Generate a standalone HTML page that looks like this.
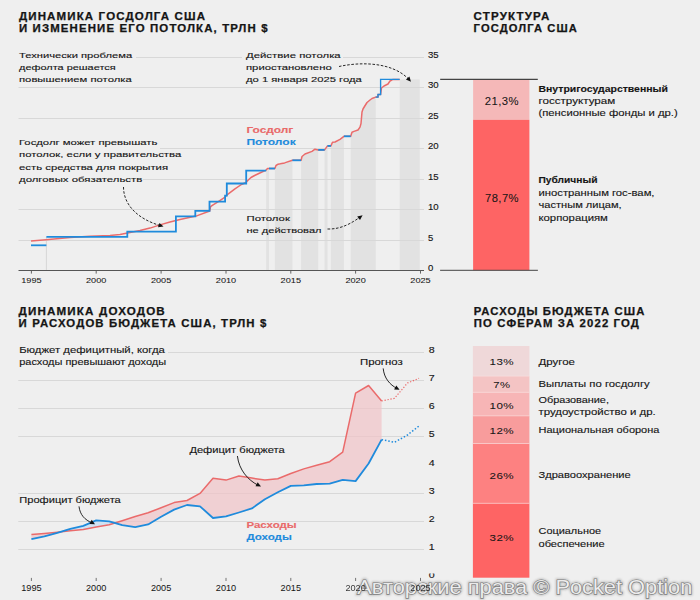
<!DOCTYPE html>
<html><head><meta charset="utf-8"><style>
html,body{margin:0;padding:0;background:#efefef;}
svg{display:block;font-family:"Liberation Sans", sans-serif;}
</style></head><body>
<svg width="700" height="600" viewBox="0 0 700 600">
<rect width="700" height="600" fill="#efefef"/>
<polygon points="266.2,270.4 266.2,169.9 267.5,168.5 269.0,168.5 269.0,270.4" fill="#e2e2e2"/>
<polygon points="274.9,270.4 274.9,168.5 276.0,165.5 278.1,164.2 280.3,163.8 284.6,162.9 292.4,160.3 292.4,270.4" fill="#e2e2e2"/>
<polygon points="301.1,270.4 301.1,160.3 302.0,156.5 305.0,154.0 312.0,151.4 315.0,149.2 318.2,149.9 318.2,270.4" fill="#e2e2e2"/>
<polygon points="324.6,270.4 324.6,149.9 327.5,145.9 327.5,270.4" fill="#e2e2e2"/>
<polygon points="330.9,270.4 330.9,145.9 332.5,142.3 335.0,142.0 340.0,139.3 343.9,136.3 343.9,270.4" fill="#e2e2e2"/>
<polygon points="350.7,270.4 350.7,136.3 352.0,132.3 354.0,131.4 358.0,130.0 360.0,127.1 361.0,123.5 362.0,112.0 363.0,109.0 364.5,106.5 367.0,102.5 370.0,100.0 372.0,98.5 375.7,97.1 375.7,270.4" fill="#e2e2e2"/>
<rect x="399.7" y="79.4" width="20" height="191" fill="#e2e2e2"/>
<line x1="18.5" y1="240.5" x2="424" y2="240.5" stroke="#d8d8d8" stroke-width="1"/>
<line x1="18.5" y1="209.5" x2="424" y2="209.5" stroke="#d8d8d8" stroke-width="1"/>
<line x1="18.5" y1="179.5" x2="424" y2="179.5" stroke="#d8d8d8" stroke-width="1"/>
<line x1="18.5" y1="148.5" x2="424" y2="148.5" stroke="#d8d8d8" stroke-width="1"/>
<line x1="18.5" y1="118.5" x2="424" y2="118.5" stroke="#d8d8d8" stroke-width="1"/>
<line x1="18.5" y1="87.5" x2="424" y2="87.5" stroke="#d8d8d8" stroke-width="1"/>
<line x1="18.5" y1="57.5" x2="424" y2="57.5" stroke="#d8d8d8" stroke-width="1"/>
<line x1="46.4" y1="237" x2="46.4" y2="270.4" stroke="#d6d6d6" stroke-width="1"/>
<polyline points="31.0,241.0 46.0,239.7 70.0,237.6 90.0,236.3 110.0,235.4 120.0,234.6 130.0,232.6 140.0,230.6 150.0,228.1 160.0,224.9 170.0,222.0 180.0,219.6 196.0,216.1 209.7,211.0 210.6,206.7 212.3,205.4 218.3,201.6 224.3,197.7 227.7,194.3 234.6,189.1 241.4,184.5 246.0,182.5 248.0,180.3 251.0,177.5 254.6,175.5 261.4,172.3 265.7,170.4 267.5,168.5 269.0,168.5 274.9,168.5 276.0,165.5 278.1,164.2 280.3,163.8 284.6,162.9 292.4,160.3 301.1,160.3 302.0,156.5 305.0,154.0 312.0,151.4 315.0,149.2 318.2,149.9 324.6,149.9 327.5,145.9 330.9,145.9 332.5,142.3 335.0,142.0 340.0,139.3 343.9,136.3 350.7,136.3 352.0,132.3 354.0,131.4 358.0,130.0 360.0,127.1 361.0,123.5 362.0,112.0 363.0,109.0 364.5,106.5 367.0,102.5 370.0,100.0 372.0,98.5 375.7,97.1 378.0,97.1 378.0,94.5 380.6,94.5 381.5,88.0 384.0,86.0 388.0,84.0 390.0,81.0 393.0,79.4 399.7,79.4" fill="none" stroke="#ea6b6b" stroke-width="1.5" stroke-linejoin="round"/>
<polyline points="31.0,245.3 46.4,245.3" fill="none" stroke="#1f8bdc" stroke-width="1.8" stroke-linejoin="miter"/>
<polyline points="46.4,236.8 127.3,236.8 127.3,231.6 175.9,231.6 175.9,216.4 195.3,216.4 195.3,210.8 209.5,210.8 209.5,201.6 225.1,201.6 225.1,195.6 226.8,195.6 226.8,183.5 246.2,183.5 246.2,170.6 266.2,170.6" fill="none" stroke="#1f8bdc" stroke-width="1.8" stroke-linejoin="miter"/>
<polyline points="269.0,168.5 274.9,168.5" fill="none" stroke="#1f8bdc" stroke-width="1.8" stroke-linejoin="miter"/>
<polyline points="292.4,160.3 301.1,160.3" fill="none" stroke="#1f8bdc" stroke-width="1.8" stroke-linejoin="miter"/>
<polyline points="318.2,149.9 324.6,149.9" fill="none" stroke="#1f8bdc" stroke-width="1.8" stroke-linejoin="miter"/>
<polyline points="327.5,145.9 330.9,145.9" fill="none" stroke="#1f8bdc" stroke-width="1.8" stroke-linejoin="miter"/>
<polyline points="343.9,136.3 350.7,136.3" fill="none" stroke="#1f8bdc" stroke-width="1.8" stroke-linejoin="miter"/>
<polyline points="375.7,97.1 378.0,97.1 378.0,94.5 380.6,94.5 380.6,79.4 399.7,79.4" fill="none" stroke="#1f8bdc" stroke-width="1.35" stroke-linejoin="miter"/>
<line x1="18.5" y1="270.5" x2="424" y2="270.5" stroke="#555" stroke-width="1"/>
<line x1="31.4" y1="270.4" x2="31.4" y2="273.6" stroke="#555" stroke-width="0.9"/>
<text x="31.4" y="283.2" font-size="7.6" font-weight="normal" fill="#151515" text-anchor="middle" textLength="20.4" lengthAdjust="spacingAndGlyphs" stroke="#151515" stroke-width="0.05">1995</text>
<line x1="96.2" y1="270.4" x2="96.2" y2="273.6" stroke="#555" stroke-width="0.9"/>
<text x="96.2" y="283.2" font-size="7.6" font-weight="normal" fill="#151515" text-anchor="middle" textLength="20.4" lengthAdjust="spacingAndGlyphs" stroke="#151515" stroke-width="0.05">2000</text>
<line x1="161.1" y1="270.4" x2="161.1" y2="273.6" stroke="#555" stroke-width="0.9"/>
<text x="161.1" y="283.2" font-size="7.6" font-weight="normal" fill="#151515" text-anchor="middle" textLength="20.4" lengthAdjust="spacingAndGlyphs" stroke="#151515" stroke-width="0.05">2005</text>
<line x1="226.0" y1="270.4" x2="226.0" y2="273.6" stroke="#555" stroke-width="0.9"/>
<text x="226.0" y="283.2" font-size="7.6" font-weight="normal" fill="#151515" text-anchor="middle" textLength="20.4" lengthAdjust="spacingAndGlyphs" stroke="#151515" stroke-width="0.05">2010</text>
<line x1="290.8" y1="270.4" x2="290.8" y2="273.6" stroke="#555" stroke-width="0.9"/>
<text x="290.8" y="283.2" font-size="7.6" font-weight="normal" fill="#151515" text-anchor="middle" textLength="20.4" lengthAdjust="spacingAndGlyphs" stroke="#151515" stroke-width="0.05">2015</text>
<line x1="355.6" y1="270.4" x2="355.6" y2="273.6" stroke="#555" stroke-width="0.9"/>
<text x="355.6" y="283.2" font-size="7.6" font-weight="normal" fill="#151515" text-anchor="middle" textLength="20.4" lengthAdjust="spacingAndGlyphs" stroke="#151515" stroke-width="0.05">2020</text>
<line x1="420.5" y1="270.4" x2="420.5" y2="273.6" stroke="#555" stroke-width="0.9"/>
<text x="420.5" y="283.2" font-size="7.6" font-weight="normal" fill="#151515" text-anchor="middle" textLength="20.4" lengthAdjust="spacingAndGlyphs" stroke="#151515" stroke-width="0.05">2025</text>
<text x="428.0" y="271.0" font-size="8.2" font-weight="normal" fill="#151515" text-anchor="start" textLength="5.3" lengthAdjust="spacingAndGlyphs" stroke="#151515" stroke-width="0.12">0</text>
<text x="428.0" y="241.0" font-size="8.2" font-weight="normal" fill="#151515" text-anchor="start" textLength="5.3" lengthAdjust="spacingAndGlyphs" stroke="#151515" stroke-width="0.12">5</text>
<text x="428.0" y="210.0" font-size="8.2" font-weight="normal" fill="#151515" text-anchor="start" textLength="10.7" lengthAdjust="spacingAndGlyphs" stroke="#151515" stroke-width="0.12">10</text>
<text x="428.0" y="180.0" font-size="8.2" font-weight="normal" fill="#151515" text-anchor="start" textLength="10.7" lengthAdjust="spacingAndGlyphs" stroke="#151515" stroke-width="0.12">15</text>
<text x="428.0" y="149.0" font-size="8.2" font-weight="normal" fill="#151515" text-anchor="start" textLength="10.7" lengthAdjust="spacingAndGlyphs" stroke="#151515" stroke-width="0.12">20</text>
<text x="428.0" y="119.0" font-size="8.2" font-weight="normal" fill="#151515" text-anchor="start" textLength="10.7" lengthAdjust="spacingAndGlyphs" stroke="#151515" stroke-width="0.12">25</text>
<text x="428.0" y="88.0" font-size="8.2" font-weight="normal" fill="#151515" text-anchor="start" textLength="10.7" lengthAdjust="spacingAndGlyphs" stroke="#151515" stroke-width="0.12">30</text>
<text x="428.0" y="58.0" font-size="8.2" font-weight="normal" fill="#151515" text-anchor="start" textLength="10.7" lengthAdjust="spacingAndGlyphs" stroke="#151515" stroke-width="0.12">35</text>
<line x1="18.3" y1="549.5" x2="424" y2="549.5" stroke="#d8d8d8" stroke-width="1"/>
<line x1="18.3" y1="521.5" x2="424" y2="521.5" stroke="#d8d8d8" stroke-width="1"/>
<line x1="18.3" y1="493.5" x2="424" y2="493.5" stroke="#d8d8d8" stroke-width="1"/>
<line x1="18.3" y1="436.5" x2="424" y2="436.5" stroke="#d8d8d8" stroke-width="1"/>
<line x1="18.3" y1="408.5" x2="424" y2="408.5" stroke="#d8d8d8" stroke-width="1"/>
<line x1="18.3" y1="380.5" x2="424" y2="380.5" stroke="#d8d8d8" stroke-width="1"/>
<line x1="18.3" y1="352.5" x2="424" y2="352.5" stroke="#d8d8d8" stroke-width="1"/>
<polygon points="31.4,534.6 44.4,533.4 57.3,532.2 60.4,531.9 60.4,531.9 57.3,532.8 44.4,536.4 31.4,539.2" fill="#f0c4c7" fill-opacity="0.72"/>
<polygon points="60.4,531.9 70.3,530.8 83.3,529.4 96.2,526.9 109.2,524.8 115.0,523.0 115.0,523.0 109.2,521.3 96.2,520.3 83.3,525.9 70.3,528.8 60.4,531.9" fill="#c4ddf2" fill-opacity="0.72"/>
<polygon points="115.0,523.0 122.2,520.7 135.2,516.5 148.1,512.8 161.1,507.7 174.1,502.6 187.0,500.5 200.0,493.4 213.0,478.3 226.0,480.1 238.9,476.0 251.9,478.1 264.9,480.1 277.8,478.7 290.8,473.5 303.8,468.9 316.7,465.3 329.7,461.7 342.7,452.2 355.6,393.1 368.6,385.5 381.6,401.0 381.6,439.6 368.6,463.5 355.6,481.1 342.7,479.9 329.7,483.6 316.7,484.0 303.8,485.4 290.8,485.9 277.8,492.3 264.9,499.2 251.9,508.4 238.9,512.5 226.0,516.4 213.0,518.0 200.0,506.3 187.0,505.0 174.1,509.6 161.1,516.7 148.1,524.4 135.2,527.1 122.2,525.1 115.0,523.0" fill="#f0c4c7" fill-opacity="0.72"/>
<polyline points="31.4,534.6 44.4,533.4 57.3,532.2 70.3,530.8 83.3,529.4 96.2,526.9 109.2,524.8 122.2,520.7 135.2,516.5 148.1,512.8 161.1,507.7 174.1,502.6 187.0,500.5 200.0,493.4 213.0,478.3 226.0,480.1 238.9,476.0 251.9,478.1 264.9,480.1 277.8,478.7 290.8,473.5 303.8,468.9 316.7,465.3 329.7,461.7 342.7,452.2 355.6,393.1 368.6,385.5 381.6,401.0" fill="none" stroke="#ea6b6b" stroke-width="1.5" stroke-linejoin="round"/>
<polyline points="31.4,539.2 44.4,536.4 57.3,532.8 70.3,528.8 83.3,525.9 96.2,520.3 109.2,521.3 122.2,525.1 135.2,527.1 148.1,524.4 161.1,516.7 174.1,509.6 187.0,505.0 200.0,506.3 213.0,518.0 226.0,516.4 238.9,512.5 251.9,508.4 264.9,499.2 277.8,492.3 290.8,485.9 303.8,485.4 316.7,484.0 329.7,483.6 342.7,479.9 355.6,481.1 368.6,463.5 381.6,439.6" fill="none" stroke="#1f8bdc" stroke-width="1.8" stroke-linejoin="round"/>
<polyline points="381.6,401.0 394.5,398.3 407.5,383.0 419.0,378.3" fill="none" stroke="#ea6b6b" stroke-width="1.2" stroke-dasharray="1.3 1.7"/>
<polyline points="381.6,439.6 394.5,442.3 407.5,435.0 419.0,426.0" fill="none" stroke="#1f8bdc" stroke-width="1.5" stroke-dasharray="1.5 1.9"/>
<line x1="31.4" y1="577.9" x2="31.4" y2="581" stroke="#666" stroke-width="0.9"/>
<text x="31.4" y="591.0" font-size="9.0" font-weight="normal" fill="#151515" text-anchor="middle" textLength="20.4" lengthAdjust="spacingAndGlyphs">1995</text>
<line x1="96.2" y1="577.9" x2="96.2" y2="581" stroke="#666" stroke-width="0.9"/>
<text x="96.2" y="591.0" font-size="9.0" font-weight="normal" fill="#151515" text-anchor="middle" textLength="20.4" lengthAdjust="spacingAndGlyphs">2000</text>
<line x1="161.1" y1="577.9" x2="161.1" y2="581" stroke="#666" stroke-width="0.9"/>
<text x="161.1" y="591.0" font-size="9.0" font-weight="normal" fill="#151515" text-anchor="middle" textLength="20.4" lengthAdjust="spacingAndGlyphs">2005</text>
<line x1="226.0" y1="577.9" x2="226.0" y2="581" stroke="#666" stroke-width="0.9"/>
<text x="226.0" y="591.0" font-size="9.0" font-weight="normal" fill="#151515" text-anchor="middle" textLength="20.4" lengthAdjust="spacingAndGlyphs">2010</text>
<line x1="290.8" y1="577.9" x2="290.8" y2="581" stroke="#666" stroke-width="0.9"/>
<text x="290.8" y="591.0" font-size="9.0" font-weight="normal" fill="#151515" text-anchor="middle" textLength="20.4" lengthAdjust="spacingAndGlyphs">2015</text>
<line x1="355.6" y1="577.9" x2="355.6" y2="581" stroke="#666" stroke-width="0.9"/>
<line x1="420.5" y1="577.9" x2="420.5" y2="581" stroke="#666" stroke-width="0.9"/>
<clipPath id="c0"><rect x="420" y="573.4" width="20" height="8"/></clipPath>
<text x="428.7" y="578.0" font-size="8.6" font-weight="normal" fill="#151515" text-anchor="start" textLength="5.9" lengthAdjust="spacingAndGlyphs" stroke="#151515" stroke-width="0.12" clip-path="url(#c0)">0</text>
<text x="428.7" y="550.0" font-size="8.6" font-weight="normal" fill="#151515" text-anchor="start" textLength="5.9" lengthAdjust="spacingAndGlyphs" stroke="#151515" stroke-width="0.12">1</text>
<text x="428.7" y="522.0" font-size="8.6" font-weight="normal" fill="#151515" text-anchor="start" textLength="5.9" lengthAdjust="spacingAndGlyphs" stroke="#151515" stroke-width="0.12">2</text>
<text x="428.7" y="494.0" font-size="8.6" font-weight="normal" fill="#151515" text-anchor="start" textLength="5.9" lengthAdjust="spacingAndGlyphs" stroke="#151515" stroke-width="0.12">3</text>
<text x="428.7" y="466.0" font-size="8.6" font-weight="normal" fill="#151515" text-anchor="start" textLength="5.9" lengthAdjust="spacingAndGlyphs" stroke="#151515" stroke-width="0.12">4</text>
<text x="428.7" y="437.0" font-size="8.6" font-weight="normal" fill="#151515" text-anchor="start" textLength="5.9" lengthAdjust="spacingAndGlyphs" stroke="#151515" stroke-width="0.12">5</text>
<text x="428.7" y="409.0" font-size="8.6" font-weight="normal" fill="#151515" text-anchor="start" textLength="5.9" lengthAdjust="spacingAndGlyphs" stroke="#151515" stroke-width="0.12">6</text>
<text x="428.7" y="381.0" font-size="8.6" font-weight="normal" fill="#151515" text-anchor="start" textLength="5.9" lengthAdjust="spacingAndGlyphs" stroke="#151515" stroke-width="0.12">7</text>
<text x="428.7" y="353.0" font-size="8.6" font-weight="normal" fill="#151515" text-anchor="start" textLength="5.9" lengthAdjust="spacingAndGlyphs" stroke="#151515" stroke-width="0.12">8</text>
<rect x="18" y="50" width="118" height="36" fill="#efefef"/>
<rect x="242" y="50" width="101" height="36" fill="#efefef"/>
<rect x="18" y="137" width="125" height="48" fill="#efefef"/>
<rect x="18" y="146" width="142" height="5" fill="#efefef"/>
<rect x="18" y="343" width="150" height="25" fill="#efefef"/>
<text x="18.9" y="19.9" font-size="10.0" font-weight="bold" fill="#151515" text-anchor="start" textLength="187.3" lengthAdjust="spacingAndGlyphs" letter-spacing="1.0" stroke="#151515" stroke-width="0.25">ДИНАМИКА ГОСДОЛГА США</text>
<text x="18.9" y="31.9" font-size="10.0" font-weight="bold" fill="#151515" text-anchor="start" textLength="249.8" lengthAdjust="spacingAndGlyphs" letter-spacing="1.0" stroke="#151515" stroke-width="0.25">И ИЗМЕНЕНИЕ ЕГО ПОТОЛКА, ТРЛН $</text>
<text x="473.6" y="20.0" font-size="10.0" font-weight="bold" fill="#151515" text-anchor="start" textLength="76.8" lengthAdjust="spacingAndGlyphs" letter-spacing="1.0" stroke="#151515" stroke-width="0.25">СТРУКТУРА</text>
<text x="473.6" y="32.0" font-size="10.0" font-weight="bold" fill="#151515" text-anchor="start" textLength="104.3" lengthAdjust="spacingAndGlyphs" letter-spacing="1.0" stroke="#151515" stroke-width="0.25">ГОСДОЛГА США</text>
<text x="18.6" y="314.6" font-size="10.0" font-weight="bold" fill="#151515" text-anchor="start" textLength="147.3" lengthAdjust="spacingAndGlyphs" letter-spacing="1.0" stroke="#151515" stroke-width="0.25">ДИНАМИКА ДОХОДОВ</text>
<text x="18.6" y="327.2" font-size="10.0" font-weight="bold" fill="#151515" text-anchor="start" textLength="248.8" lengthAdjust="spacingAndGlyphs" letter-spacing="1.0" stroke="#151515" stroke-width="0.25">И РАСХОДОВ БЮДЖЕТА США, ТРЛН $</text>
<text x="473.7" y="314.7" font-size="10.0" font-weight="bold" fill="#151515" text-anchor="start" textLength="171.8" lengthAdjust="spacingAndGlyphs" letter-spacing="1.0" stroke="#151515" stroke-width="0.25">РАСХОДЫ БЮДЖЕТА США</text>
<text x="473.7" y="327.1" font-size="10.0" font-weight="bold" fill="#151515" text-anchor="start" textLength="166.3" lengthAdjust="spacingAndGlyphs" letter-spacing="1.0" stroke="#151515" stroke-width="0.25">ПО СФЕРАМ ЗА 2022 ГОД</text>
<text x="19.0" y="57.6" font-size="8.1" font-weight="normal" fill="#151515" text-anchor="start" textLength="113.1" lengthAdjust="spacingAndGlyphs" stroke="#151515" stroke-width="0.12">Технически проблема</text>
<text x="19.0" y="70.0" font-size="8.1" font-weight="normal" fill="#151515" text-anchor="start" textLength="96.7" lengthAdjust="spacingAndGlyphs" stroke="#151515" stroke-width="0.12">дефолта решается</text>
<text x="19.0" y="82.4" font-size="8.1" font-weight="normal" fill="#151515" text-anchor="start" textLength="112.7" lengthAdjust="spacingAndGlyphs" stroke="#151515" stroke-width="0.12">повышением потолка</text>
<text x="246.0" y="57.6" font-size="8.1" font-weight="normal" fill="#151515" text-anchor="start" textLength="94.7" lengthAdjust="spacingAndGlyphs" stroke="#151515" stroke-width="0.12">Действие потолка</text>
<text x="246.0" y="70.0" font-size="8.1" font-weight="normal" fill="#151515" text-anchor="start" textLength="85.7" lengthAdjust="spacingAndGlyphs" stroke="#151515" stroke-width="0.12">приостановлено</text>
<text x="246.0" y="82.4" font-size="8.1" font-weight="normal" fill="#151515" text-anchor="start" textLength="115.7" lengthAdjust="spacingAndGlyphs" stroke="#151515" stroke-width="0.12">до 1 января 2025 года</text>
<text x="19.0" y="144.9" font-size="8.1" font-weight="normal" fill="#151515" text-anchor="start" textLength="138.3" lengthAdjust="spacingAndGlyphs" stroke="#151515" stroke-width="0.12">Госдолг может превышать</text>
<text x="19.0" y="157.3" font-size="8.1" font-weight="normal" fill="#151515" text-anchor="start" textLength="162.2" lengthAdjust="spacingAndGlyphs" stroke="#151515" stroke-width="0.12">потолок, если у правительства</text>
<text x="19.0" y="169.7" font-size="8.1" font-weight="normal" fill="#151515" text-anchor="start" textLength="149.1" lengthAdjust="spacingAndGlyphs" stroke="#151515" stroke-width="0.12">есть средства для покрытия</text>
<text x="19.0" y="182.1" font-size="8.1" font-weight="normal" fill="#151515" text-anchor="start" textLength="123.3" lengthAdjust="spacingAndGlyphs" stroke="#151515" stroke-width="0.12">долговых обязательств</text>
<text x="246.4" y="132.9" font-size="9.6" font-weight="bold" fill="#e96a6a" text-anchor="start" textLength="46.9" lengthAdjust="spacingAndGlyphs" stroke="#e96a6a" stroke-width="0.12">Госдолг</text>
<text x="246.4" y="145.0" font-size="9.6" font-weight="bold" fill="#1f8bdc" text-anchor="start" textLength="49.3" lengthAdjust="spacingAndGlyphs" stroke="#1f8bdc" stroke-width="0.12">Потолок</text>
<text x="246.5" y="220.8" font-size="8.1" font-weight="normal" fill="#151515" text-anchor="start" textLength="43.4" lengthAdjust="spacingAndGlyphs" stroke="#151515" stroke-width="0.12">Потолок</text>
<text x="246.5" y="232.9" font-size="8.1" font-weight="normal" fill="#151515" text-anchor="start" textLength="75.0" lengthAdjust="spacingAndGlyphs" stroke="#151515" stroke-width="0.12">не действовал</text>
<path d="M123.5,187 C123.5,205 138,219 160,225.5" fill="none" stroke="#111" stroke-width="0.9" stroke-dasharray="2.6 1.6"/>
<polygon points="163.5,226.6 158.0,227.2 159.5,222.9" fill="#111"/>
<path d="M339,66.5 C362,61.5 392,62.5 408,78.5" fill="none" stroke="#111" stroke-width="0.9" stroke-dasharray="2.6 1.6"/>
<polygon points="411.0,81.8 405.9,79.6 409.4,76.5" fill="#111"/>
<path d="M327.5,229 C342,229.5 353,222 359.5,217.5" fill="none" stroke="#111" stroke-width="0.9" stroke-dasharray="2.6 1.6"/>
<polygon points="362.6,215.2 360.0,220.0 357.2,216.4" fill="#111"/>
<path d="M383.2,368.4 C384,378 390,385 397,388.4" fill="none" stroke="#111" stroke-width="0.9"/>
<polygon points="399.6,389.8 394.1,389.5 396.3,385.4" fill="#111"/>
<path d="M237.4,456 C239,470 248,480 258,485.2" fill="none" stroke="#111" stroke-width="0.9"/>
<polygon points="261.0,486.6 255.5,486.3 257.7,482.2" fill="#111"/>
<path d="M79,506.4 C80,515 85,520 92,522.8" fill="none" stroke="#111" stroke-width="0.9"/>
<polygon points="95.0,524.2 89.5,523.9 91.7,519.8" fill="#111"/>
<text x="19.2" y="352.5" font-size="9.4" font-weight="normal" fill="#151515" text-anchor="start" textLength="145.7" lengthAdjust="spacingAndGlyphs" stroke="#151515" stroke-width="0.12">Бюджет дефицитный, когда</text>
<text x="19.2" y="365.0" font-size="9.4" font-weight="normal" fill="#151515" text-anchor="start" textLength="146.9" lengthAdjust="spacingAndGlyphs" stroke="#151515" stroke-width="0.12">расходы превышают доходы</text>
<text x="360.0" y="365.0" font-size="9.0" font-weight="normal" fill="#151515" text-anchor="start" textLength="42.7" lengthAdjust="spacingAndGlyphs" stroke="#151515" stroke-width="0.12">Прогноз</text>
<text x="189.4" y="453.1" font-size="9.2" font-weight="normal" fill="#151515" text-anchor="start" textLength="95.3" lengthAdjust="spacingAndGlyphs" stroke="#151515" stroke-width="0.12">Дефицит бюджета</text>
<text x="19.3" y="503.0" font-size="9.2" font-weight="normal" fill="#151515" text-anchor="start" textLength="101.5" lengthAdjust="spacingAndGlyphs" stroke="#151515" stroke-width="0.12">Профицит бюджета</text>
<text x="246.4" y="527.9" font-size="9.8" font-weight="bold" fill="#e96a6a" text-anchor="start" textLength="50.3" lengthAdjust="spacingAndGlyphs" stroke="#e96a6a" stroke-width="0.12">Расходы</text>
<text x="246.4" y="540.3" font-size="9.8" font-weight="bold" fill="#1f8bdc" text-anchor="start" textLength="45.4" lengthAdjust="spacingAndGlyphs" stroke="#1f8bdc" stroke-width="0.12">Доходы</text>
<rect x="473.1" y="79.8" width="56.3" height="40" fill="#f5b8b8"/>
<rect x="473.1" y="119.8" width="56.3" height="150.5" fill="#fe6464"/>
<line x1="440.2" y1="79.3" x2="537.8" y2="79.3" stroke="#1a1a1a" stroke-width="1"/>
<line x1="440.1" y1="270.3" x2="537.9" y2="270.3" stroke="#444" stroke-width="1"/>
<text x="501.9" y="105.0" font-size="10.2" font-weight="normal" fill="#151515" text-anchor="middle" textLength="34.2" lengthAdjust="spacingAndGlyphs" letter-spacing="0.4" stroke="#151515" stroke-width="0.06">21,3%</text>
<text x="502.0" y="202.0" font-size="10.2" font-weight="normal" fill="#151515" text-anchor="middle" textLength="34.0" lengthAdjust="spacingAndGlyphs" letter-spacing="0.4" stroke="#151515" stroke-width="0.06">78,7%</text>
<text x="538.5" y="92.1" font-size="9.2" font-weight="bold" fill="#151515" text-anchor="start" textLength="129.4" lengthAdjust="spacingAndGlyphs" stroke="#151515" stroke-width="0.12">Внутригосударственный</text>
<text x="538.5" y="104.3" font-size="9.2" font-weight="normal" fill="#151515" text-anchor="start" textLength="76.7" lengthAdjust="spacingAndGlyphs" stroke="#151515" stroke-width="0.12">госструктурам</text>
<text x="538.5" y="116.4" font-size="9.2" font-weight="normal" fill="#151515" text-anchor="start" textLength="139.2" lengthAdjust="spacingAndGlyphs" stroke="#151515" stroke-width="0.12">(пенсионные фонды и др.)</text>
<text x="538.5" y="183.4" font-size="9.2" font-weight="bold" fill="#151515" text-anchor="start" textLength="59.0" lengthAdjust="spacingAndGlyphs" stroke="#151515" stroke-width="0.12">Публичный</text>
<text x="538.5" y="196.2" font-size="9.2" font-weight="normal" fill="#151515" text-anchor="start" textLength="116.0" lengthAdjust="spacingAndGlyphs" stroke="#151515" stroke-width="0.12">иностранным гос-вам,</text>
<text x="538.5" y="208.4" font-size="9.2" font-weight="normal" fill="#151515" text-anchor="start" textLength="83.2" lengthAdjust="spacingAndGlyphs" stroke="#151515" stroke-width="0.12">частным лицам,</text>
<text x="538.5" y="221.0" font-size="9.2" font-weight="normal" fill="#151515" text-anchor="start" textLength="69.4" lengthAdjust="spacingAndGlyphs" stroke="#151515" stroke-width="0.12">корпорациям</text>
<rect x="472.9" y="346.0" width="56.5" height="30.1" fill="#efd8d9"/>
<rect x="472.9" y="376.1" width="56.5" height="16.2" fill="#f4c4c4"/>
<rect x="472.9" y="392.3" width="56.5" height="23.6" fill="#f7b5b6"/>
<rect x="472.9" y="415.9" width="56.5" height="27.6" fill="#f89c9c"/>
<rect x="472.9" y="443.5" width="56.5" height="59.8" fill="#fd8181"/>
<rect x="472.9" y="503.3" width="56.5" height="74.4" fill="#fe6464"/>
<line x1="472.9" y1="376.1" x2="529.4" y2="376.1" stroke="#fbe3e3" stroke-width="0.7" stroke-opacity="0.8"/>
<line x1="472.9" y1="392.3" x2="529.4" y2="392.3" stroke="#fbe3e3" stroke-width="0.7" stroke-opacity="0.8"/>
<line x1="472.9" y1="415.9" x2="529.4" y2="415.9" stroke="#fbe3e3" stroke-width="0.7" stroke-opacity="0.8"/>
<line x1="472.9" y1="443.5" x2="529.4" y2="443.5" stroke="#fbe3e3" stroke-width="0.7" stroke-opacity="0.8"/>
<line x1="472.9" y1="503.3" x2="529.4" y2="503.3" stroke="#fbe3e3" stroke-width="0.7" stroke-opacity="0.8"/>
<text x="501.8" y="365.3" font-size="9.9" font-weight="normal" fill="#151515" text-anchor="middle" textLength="24.6" lengthAdjust="spacingAndGlyphs" letter-spacing="0.4" stroke="#151515" stroke-width="0.06">13%</text>
<text x="501.8" y="387.8" font-size="9.9" font-weight="normal" fill="#151515" text-anchor="middle" textLength="17.2" lengthAdjust="spacingAndGlyphs" letter-spacing="0.4" stroke="#151515" stroke-width="0.06">7%</text>
<text x="501.8" y="408.9" font-size="9.9" font-weight="normal" fill="#151515" text-anchor="middle" textLength="24.6" lengthAdjust="spacingAndGlyphs" letter-spacing="0.4" stroke="#151515" stroke-width="0.06">10%</text>
<text x="501.8" y="434.1" font-size="9.9" font-weight="normal" fill="#151515" text-anchor="middle" textLength="24.6" lengthAdjust="spacingAndGlyphs" letter-spacing="0.4" stroke="#151515" stroke-width="0.06">12%</text>
<text x="501.8" y="478.5" font-size="9.9" font-weight="normal" fill="#151515" text-anchor="middle" textLength="24.6" lengthAdjust="spacingAndGlyphs" letter-spacing="0.4" stroke="#151515" stroke-width="0.06">26%</text>
<text x="501.8" y="540.8" font-size="9.9" font-weight="normal" fill="#151515" text-anchor="middle" textLength="24.6" lengthAdjust="spacingAndGlyphs" letter-spacing="0.4" stroke="#151515" stroke-width="0.06">32%</text>
<text x="538.5" y="364.9" font-size="9.2" font-weight="normal" fill="#151515" text-anchor="start" textLength="36.4" lengthAdjust="spacingAndGlyphs" stroke="#151515" stroke-width="0.12">Другое</text>
<text x="538.5" y="386.8" font-size="9.2" font-weight="normal" fill="#151515" text-anchor="start" textLength="111.2" lengthAdjust="spacingAndGlyphs" stroke="#151515" stroke-width="0.12">Выплаты по госдолгу</text>
<text x="538.5" y="402.6" font-size="9.2" font-weight="normal" fill="#151515" text-anchor="start" textLength="70.4" lengthAdjust="spacingAndGlyphs" stroke="#151515" stroke-width="0.12">Образование,</text>
<text x="538.5" y="415.0" font-size="9.2" font-weight="normal" fill="#151515" text-anchor="start" textLength="117.2" lengthAdjust="spacingAndGlyphs" stroke="#151515" stroke-width="0.12">трудоустройство и др.</text>
<text x="538.5" y="432.9" font-size="9.2" font-weight="normal" fill="#151515" text-anchor="start" textLength="120.9" lengthAdjust="spacingAndGlyphs" stroke="#151515" stroke-width="0.12">Национальная оборона</text>
<text x="538.5" y="477.7" font-size="9.2" font-weight="normal" fill="#151515" text-anchor="start" textLength="92.2" lengthAdjust="spacingAndGlyphs" stroke="#151515" stroke-width="0.12">Здравоохранение</text>
<text x="538.5" y="534.3" font-size="9.2" font-weight="normal" fill="#151515" text-anchor="start" textLength="62.6" lengthAdjust="spacingAndGlyphs" stroke="#151515" stroke-width="0.12">Социальное</text>
<text x="538.5" y="546.7" font-size="9.2" font-weight="normal" fill="#151515" text-anchor="start" textLength="66.2" lengthAdjust="spacingAndGlyphs" stroke="#151515" stroke-width="0.12">обеспечение</text>
<defs><filter id="wb" x="-5%" y="-50%" width="110%" height="200%"><feGaussianBlur stdDeviation="0.9"/></filter></defs>
<text x="357.3" y="594.4" font-size="20.6" fill="none" stroke="#6a6a6a" stroke-width="3" opacity="0.35" filter="url(#wb)" textLength="335" lengthAdjust="spacingAndGlyphs">Авторские права © Pocket Option</text>
<text x="357.3" y="594.4" font-size="20.6" fill="#fafafa" fill-opacity="0.88" stroke="#767676" stroke-width="1.25" stroke-opacity="0.95" paint-order="stroke" textLength="335" lengthAdjust="spacingAndGlyphs">Авторские права © Pocket Option</text>
<text x="355.6" y="591.0" font-size="9.0" font-weight="normal" fill="#151515" text-anchor="middle" textLength="20.4" lengthAdjust="spacingAndGlyphs" opacity="0.85">2020</text>
<text x="420.5" y="591.0" font-size="9.0" font-weight="normal" fill="#151515" text-anchor="middle" textLength="20.4" lengthAdjust="spacingAndGlyphs" opacity="0.85">2025</text>
</svg></body></html>
